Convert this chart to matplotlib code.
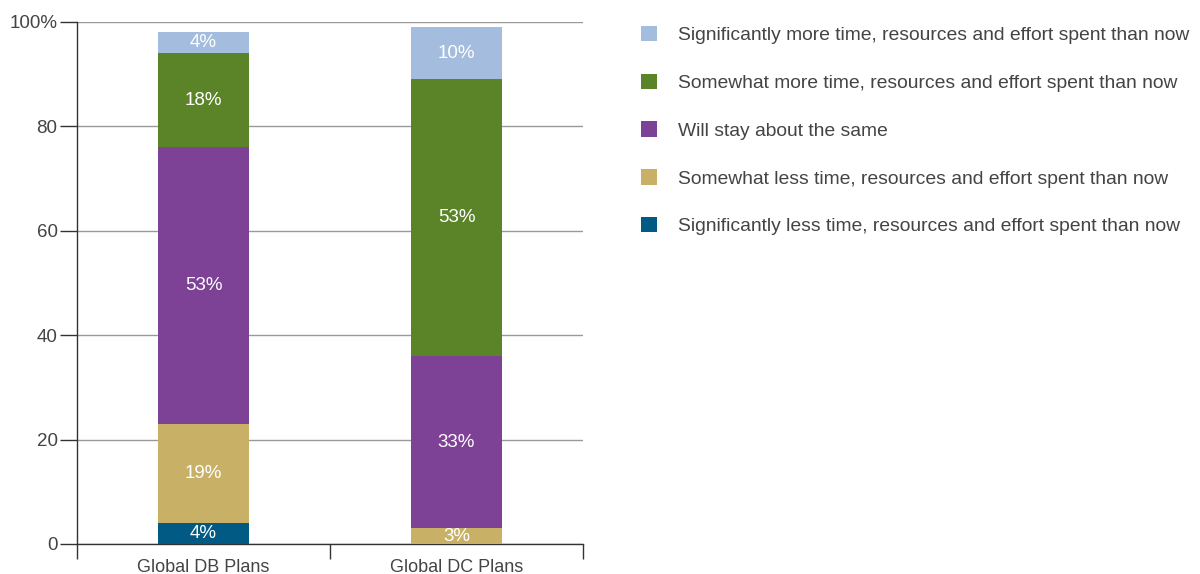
import matplotlib
matplotlib.use("Agg")
import matplotlib.pyplot as plt
from matplotlib.patches import Patch
import numpy as np

categories = ["Global DB Plans", "Global DC Plans"]
series_names = [
    "Significantly less time, resources and effort spent than now",
    "Somewhat less time, resources and effort spent than now",
    "Will stay about the same",
    "Somewhat more time, resources and effort spent than now",
    "Significantly more time, resources and effort spent than now",
]
sig_less = [4, 0]
some_less = [19, 3]
same = [53, 33]
some_more = [18, 53]
sig_more = [4, 10]
series_values = [sig_less, some_less, same, some_more, sig_more]
colors = ["#005A84", "#C8B066", "#7D4196", "#5B8428", "#A4BCDD"]
yticks = [0, 20, 40, 60, 80, 100]
ytick_labels = ["0", "20", "40", "60", "80", "100%"]

plt.rcParams['font.family'] = ['Liberation Sans', 'DejaVu Sans']
fig = plt.figure(figsize=(12, 5.74), dpi=100)
ax = fig.add_axes([77/1200, 30/574, 506/1200, 522/574])

x = np.arange(len(categories))
bottom = np.zeros(len(categories))
for name, vals, c in zip(series_names, series_values, colors):
    vals = np.array(vals, dtype=float)
    ax.bar(x, vals, 0.36, bottom=bottom, color=c, zorder=3, label=name)
    for xi, v, b in zip(x, vals, bottom):
        if v > 0:
            ax.text(xi, b + v / 2, f"{int(v)}%", ha="center", va="center",
                    color="white", fontsize=13.5, zorder=4)
    bottom += vals

ax.set_xlim(-0.5, 1.5)
ax.set_ylim(0, 100)
ax.set_yticks(yticks)
ax.set_yticklabels(ytick_labels)
ax.set_xticks(x)
ax.set_xticklabels(categories)
ax.tick_params(axis='x', length=0, labelsize=13, colors="#444444", pad=11)
ax.set_xticks([-0.5, 0.5, 1.5], minor=True)
ax.tick_params(axis='x', which='minor', length=11, width=1, color="#333333", direction='out')
ax.tick_params(axis='y', length=12, width=1, color="#333333", labelsize=13.5,
               labelcolor="#444444", pad=2)
ax.yaxis.grid(True, color="#999999", linewidth=1, zorder=0)
ax.set_axisbelow(True)
for s in ["top", "right"]:
    ax.spines[s].set_visible(False)
for s in ["left", "bottom"]:
    ax.spines[s].set_color("#333333")
    ax.spines[s].set_linewidth(1)

handles = [Patch(facecolor=c, edgecolor='none') for c in colors][::-1]
labels = series_names[::-1]
fig.legend(handles, labels, loc="upper left", bbox_to_anchor=(641/1200, 1 - 26/574),
           frameon=False, fontsize=13.9, labelcolor="#444444",
           handlelength=0.85, handleheight=0.85, handletextpad=1.05,
           labelspacing=1.52, borderaxespad=0, borderpad=0)

fig.savefig("out.png", dpi=100)
